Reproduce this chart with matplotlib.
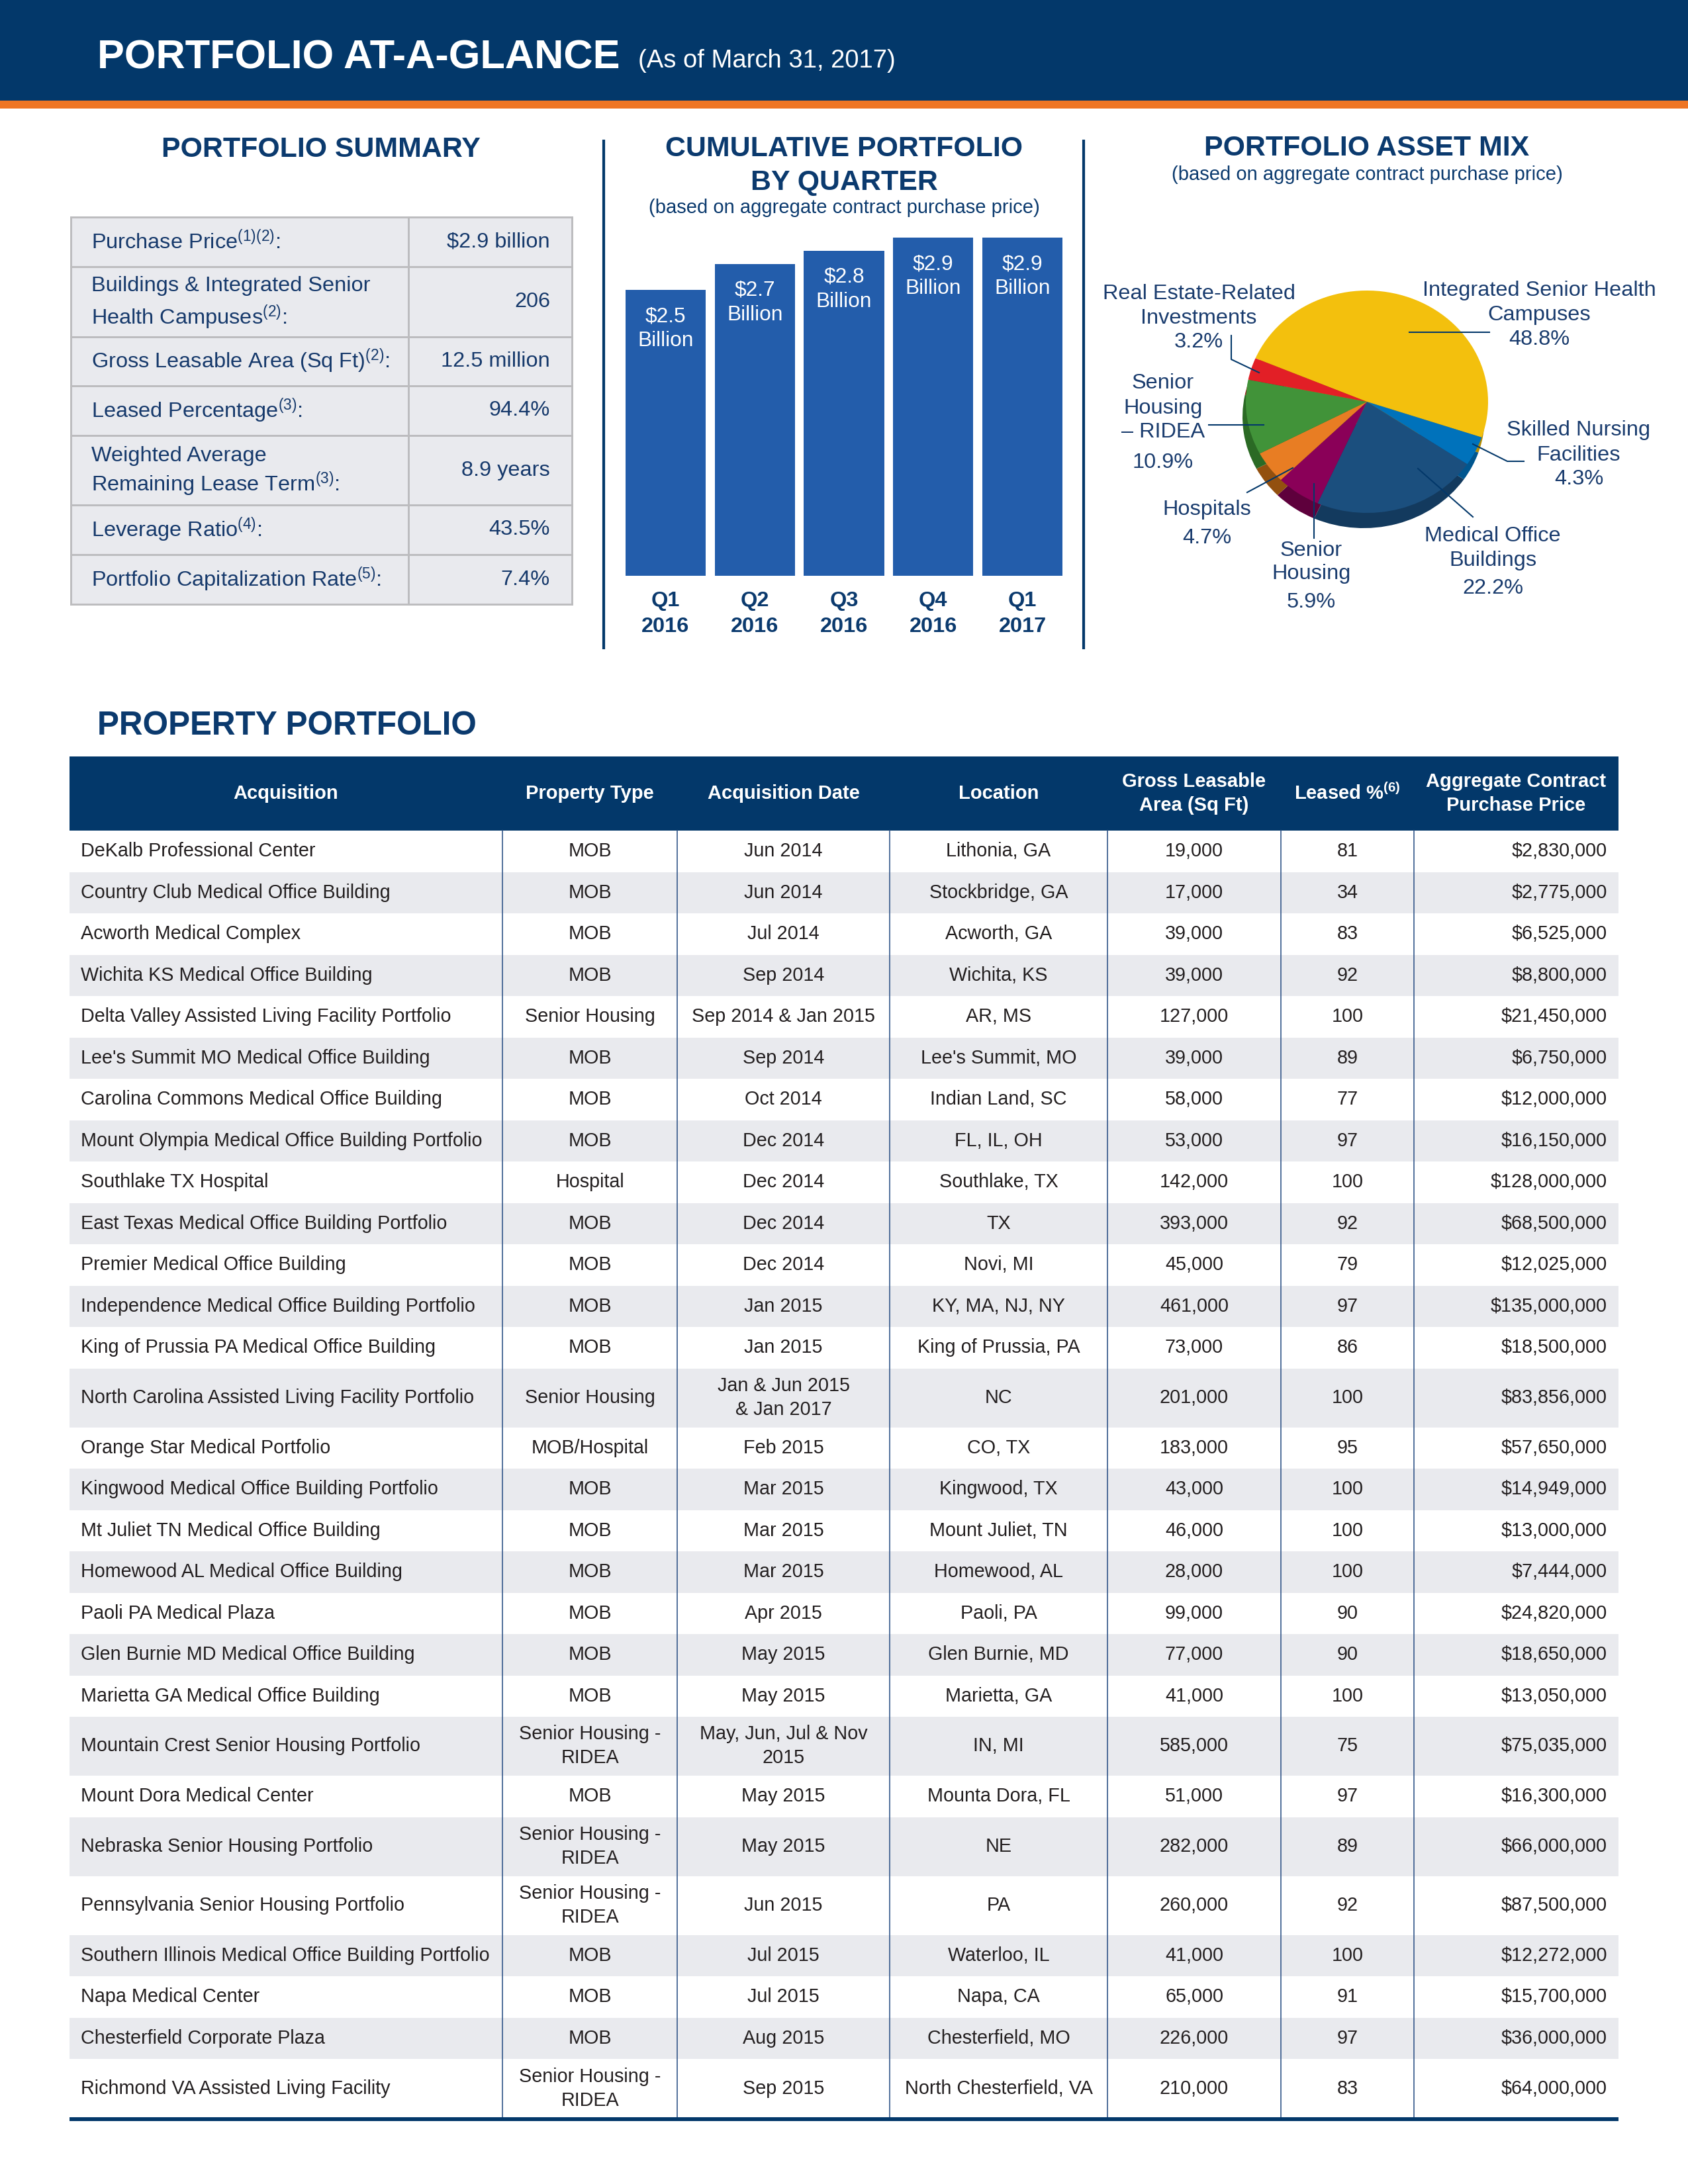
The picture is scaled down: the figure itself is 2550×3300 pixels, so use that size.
import matplotlib
matplotlib.use("Agg")
import matplotlib.pyplot as plt
from matplotlib.patches import Rectangle

plt.rcParams['font.family'] = ['Liberation Sans', 'DejaVu Sans']
plt.rcParams['mathtext.default'] = 'regular'

W, H, DPI = 2550, 3300, 300
PT = DPI / 72.0          # pixels per point

NAVY = '#03386a'
HEAD = '#0b3a6e'
TXT = '#16396b'
ORANGE = '#ee7524'
BAR = '#235dab'
GRAY = '#e9eaee'
BODY = '#231f20'

# ---------------- data ----------------
summary_labels = [
    ["Purchase Price$^{(1)(2)}$:"],
    ["Buildings & Integrated Senior", "Health Campuses$^{(2)}$:"],
    ["Gross Leasable Area (Sq Ft)$^{(2)}$:"],
    ["Leased Percentage$^{(3)}$:"],
    ["Weighted Average", "Remaining Lease Term$^{(3)}$:"],
    ["Leverage Ratio$^{(4)}$:"],
    ["Portfolio Capitalization Rate$^{(5)}$:"],
]
summary_values = ["$2.9 billion", "206", "12.5 million", "94.4%", "8.9 years", "43.5%", "7.4%"]

quarters = ["Q1", "Q2", "Q3", "Q4", "Q1"]
years = ["2016", "2016", "2016", "2016", "2017"]
cumulative = [2.5, 2.7, 2.8, 2.9, 2.9]

mix_names = ["Integrated Senior Health Campuses", "Skilled Nursing Facilities",
             "Medical Office Buildings", "Senior Housing", "Hospitals",
             "Senior Housing - RIDEA", "Real Estate-Related Investments"]
mix_pct = [48.8, 4.3, 22.2, 5.9, 4.7, 10.9, 3.2]
mix_colors = ['#f3c00d', '#0072bb', '#1b4f7e', '#8a0058', '#e87d23', '#419339', '#e21f26']
mix_dark = ['#b58c00', '#00568f', '#133a5e', '#5e003c', '#93500f', '#2b6a25', '#9c1117']

columns = ["Acquisition", "Property Type", "Acquisition Date", "Location",
           "Gross Leasable\nArea (Sq Ft)", "Leased %$^{(6)}$", "Aggregate Contract\nPurchase Price"]

acquisitions = [
    "DeKalb Professional Center", "Country Club Medical Office Building", "Acworth Medical Complex",
    "Wichita KS Medical Office Building", "Delta Valley Assisted Living Facility Portfolio",
    "Lee's Summit MO Medical Office Building", "Carolina Commons Medical Office Building",
    "Mount Olympia Medical Office Building Portfolio", "Southlake TX Hospital",
    "East Texas Medical Office Building Portfolio", "Premier Medical Office Building",
    "Independence Medical Office Building Portfolio", "King of Prussia PA Medical Office Building",
    "North Carolina Assisted Living Facility Portfolio", "Orange Star Medical Portfolio",
    "Kingwood Medical Office Building Portfolio", "Mt Juliet TN Medical Office Building",
    "Homewood AL Medical Office Building", "Paoli PA Medical Plaza",
    "Glen Burnie MD Medical Office Building", "Marietta GA Medical Office Building",
    "Mountain Crest Senior Housing Portfolio", "Mount Dora Medical Center",
    "Nebraska Senior Housing Portfolio", "Pennsylvania Senior Housing Portfolio",
    "Southern Illinois Medical Office Building Portfolio", "Napa Medical Center",
    "Chesterfield Corporate Plaza", "Richmond VA Assisted Living Facility",
]
prop_types = [
    "MOB", "MOB", "MOB", "MOB", "Senior Housing", "MOB", "MOB", "MOB", "Hospital", "MOB", "MOB",
    "MOB", "MOB", "Senior Housing", "MOB/Hospital", "MOB", "MOB", "MOB", "MOB", "MOB", "MOB",
    "Senior Housing -\nRIDEA", "MOB", "Senior Housing -\nRIDEA", "Senior Housing -\nRIDEA",
    "MOB", "MOB", "MOB", "Senior Housing -\nRIDEA",
]
acq_dates = [
    "Jun 2014", "Jun 2014", "Jul 2014", "Sep 2014", "Sep 2014 & Jan 2015", "Sep 2014", "Oct 2014",
    "Dec 2014", "Dec 2014", "Dec 2014", "Dec 2014", "Jan 2015", "Jan 2015",
    "Jan & Jun 2015\n& Jan 2017", "Feb 2015", "Mar 2015", "Mar 2015", "Mar 2015", "Apr 2015",
    "May 2015", "May 2015", "May, Jun, Jul & Nov\n2015", "May 2015", "May 2015", "Jun 2015",
    "Jul 2015", "Jul 2015", "Aug 2015", "Sep 2015",
]
locations = [
    "Lithonia, GA", "Stockbridge, GA", "Acworth, GA", "Wichita, KS", "AR, MS", "Lee's Summit, MO",
    "Indian Land, SC", "FL, IL, OH", "Southlake, TX", "TX", "Novi, MI", "KY, MA, NJ, NY",
    "King of Prussia, PA", "NC", "CO, TX", "Kingwood, TX", "Mount Juliet, TN", "Homewood, AL",
    "Paoli, PA", "Glen Burnie, MD", "Marietta, GA", "IN, MI", "Mounta Dora, FL", "NE", "PA",
    "Waterloo, IL", "Napa, CA", "Chesterfield, MO", "North Chesterfield, VA",
]
gla = [19000, 17000, 39000, 39000, 127000, 39000, 58000, 53000, 142000, 393000, 45000, 461000,
       73000, 201000, 183000, 43000, 46000, 28000, 99000, 77000, 41000, 585000, 51000, 282000,
       260000, 41000, 65000, 226000, 210000]
leased = [81, 34, 83, 92, 100, 89, 77, 97, 100, 92, 79, 97, 86, 100, 95, 100, 100, 100, 90, 90,
          100, 75, 97, 89, 92, 100, 91, 97, 83]
price = [2830000, 2775000, 6525000, 8800000, 21450000, 6750000, 12000000, 16150000, 128000000,
         68500000, 12025000, 135000000, 18500000, 83856000, 57650000, 14949000, 13000000, 7444000,
         24820000, 18650000, 13050000, 75035000, 16300000, 66000000, 87500000, 12272000, 15700000,
         36000000, 64000000]

# ---------------- figure ----------------
fig = plt.figure(figsize=(W / DPI, H / DPI), dpi=DPI)
bg = fig.add_axes([0, 0, 1, 1], zorder=0)
bg.set_xlim(0, W)
bg.set_ylim(H, 0)
bg.set_axis_off()
ov = fig.add_axes([0, 0, 1, 1], zorder=5)
ov.set_xlim(0, W)
ov.set_ylim(H, 0)
ov.set_axis_off()
ov.patch.set_alpha(0)


def put(x, y, s, size, color, ha='center', va='center', weight='normal', math=False):
    ov.text(x, y, s, fontsize=size, color=color, ha=ha, va=va, fontweight=weight,
            parse_math=math)


def rect(x0, y0, w, h, fc, ec='none', lw=0):
    bg.add_patch(Rectangle((x0, y0), w, h, facecolor=fc, edgecolor=ec, linewidth=lw))


# header band
rect(0, 0, W, 152, NAVY)
rect(0, 152, W, 12, ORANGE)
put(147, 103, "PORTFOLIO AT-A-GLANCE", 14.7, 'white', ha='left', va='baseline', weight='bold')
put(964, 102, "(As of March 31, 2017)", 9.2, 'white', ha='left', va='baseline')

# panel dividers
for xd in (912, 1637):
    ov.plot([xd, xd], [211, 981], color=NAVY, lw=1.0, solid_capstyle='butt')

# ---------------- portfolio summary ----------------
put(485, 237, "PORTFOLIO SUMMARY", 10.3, HEAD, va='baseline', weight='bold')
row_edges = [328, 403, 509, 583, 658, 763, 838, 913]
sx0, sx1, sdiv = 107, 864, 617
rect(sx0, row_edges[0], sx1 - sx0, row_edges[-1] - row_edges[0], GRAY)
for ye in row_edges:
    ov.plot([sx0, sx1], [ye, ye], color='#bcbcbe', lw=0.7)
for xe in (sx0, sdiv, sx1):
    ov.plot([xe, xe], [row_edges[0], row_edges[-1]], color='#bcbcbe', lw=0.7)
for i, (lab, val) in enumerate(zip(summary_labels, summary_values)):
    yc = (row_edges[i] + row_edges[i + 1]) / 2
    if len(lab) == 1:
        put(138, yc, lab[0], 7.8, TXT, ha='left', math=True)
    else:
        off = 24 if i == 1 else 21
        put(138, yc - off, lab[0], 7.8, TXT, ha='left', math=True)
        put(138, yc + off, lab[1], 7.8, TXT, ha='left', math=True)
    put(831, yc, val, 7.8, TXT, ha='right')

# ---------------- cumulative portfolio bar chart ----------------
put(1275, 236, "CUMULATIVE PORTFOLIO", 10.3, HEAD, va='baseline', weight='bold')
put(1275, 287, "BY QUARTER", 10.3, HEAD, va='baseline', weight='bold')
put(1275, 322, "(based on aggregate contract purchase price)", 7.0, HEAD, va='baseline')

bx0, bx1, by_top, by_bot = 938, 1612, 359, 870
ba = fig.add_axes([bx0 / W, 1 - by_bot / H, (bx1 - bx0) / W, (by_bot - by_top) / H], zorder=2)
ba.bar(range(len(cumulative)), cumulative, width=0.9, color=BAR)
ba.set_xlim(-0.5, len(cumulative) - 0.5)
ba.set_ylim(0.313, 2.9)
ba.set_axis_off()
for i, v in enumerate(cumulative):
    ba.annotate(f"${v:.1f}", (i, v), xytext=(0, -40 / PT), textcoords='offset points',
                ha='center', va='center', color='white', fontsize=7.6, parse_math=False)
    ba.annotate("Billion", (i, v), xytext=(0, -77 / PT), textcoords='offset points',
                ha='center', va='center', color='white', fontsize=7.6)
for i, (q, yr) in enumerate(zip(quarters, years)):
    ba.annotate(q, (i, 0), xycoords=('data', 'axes fraction'), xytext=(0, -38 / PT),
                textcoords='offset points', ha='center', va='center', color=HEAD,
                fontsize=7.8, fontweight='bold', annotation_clip=False)
    ba.annotate(yr, (i, 0), xycoords=('data', 'axes fraction'), xytext=(0, -77 / PT),
                textcoords='offset points', ha='center', va='center', color=HEAD,
                fontsize=7.8, fontweight='bold', annotation_clip=False)

# ---------------- asset mix pie ----------------
put(2065, 235, "PORTFOLIO ASSET MIX", 10.3, HEAD, va='baseline', weight='bold')
put(2065, 272, "(based on aggregate contract purchase price)", 7.0, HEAD, va='baseline')

cx, cy = 2065, 607
YS = 168 / 183
px0, px1, py0, py1 = 1700, 2430, 400, 830
pa = fig.add_axes([px0 / W, 1 - py1 / H, (px1 - px0) / W, (py1 - py0) / H], zorder=2)
pa.pie(mix_pct, colors=mix_dark, startangle=157, counterclock=False, radius=183,
       center=(-5, -23 / YS), wedgeprops=dict(linewidth=0))
pa.pie(mix_pct, colors=mix_colors, startangle=157, counterclock=False, radius=183,
       center=(0, 0), wedgeprops=dict(linewidth=0))
pa.set_aspect('auto')
pa.set_xlim(px0 - cx, px1 - cx)
pa.set_ylim(-(py1 - cy) / YS, (cy - py0) / YS)
pa.set_axis_off()

PIE_TXT = '#1a3c6e'
pie_labels = [
    (2325, [439, 476, 513], ["Integrated Senior Health", "Campuses", "48.8%"]),
    (2385, [650, 688, 724], ["Skilled Nursing", "Facilities", "4.3%"]),
    (2255, [810, 847, 889], ["Medical Office", "Buildings", "22.2%"]),
    (1981, [832, 867, 910], ["Senior", "Housing", "5.9%"]),
    (1823, [770, 813], ["Hospitals", "4.7%"]),
    (1757, [579, 617, 653, 699], ["Senior", "Housing", "– RIDEA", "10.9%"]),
    (1811, [444, 481, 517], ["Real Estate-Related", "Investments", "3.2%"]),
]
for x, ys, lines in pie_labels:
    for yy, s in zip(ys, lines):
        put(x, yy, s, 7.8, PIE_TXT)

leaders = [
    ([2129, 2250], [502, 502]),
    ([2225, 2277, 2302], [671, 697, 697]),
    ([2142, 2225], [708, 781]),
    ([1985, 1985], [731, 813]),
    ([1953, 1884], [707, 744]),
    ([1909, 1826], [642, 642]),
    ([1902, 1860, 1860], [563, 543, 507]),
]
for xs, ys in leaders:
    ov.plot(xs, ys, color=NAVY, lw=0.5)

# ---------------- property portfolio table ----------------
put(147, 1110, "PROPERTY PORTFOLIO", 11.9, HEAD, ha='left', va='baseline', weight='bold')

col_x = [105, 759, 1023, 1344, 1673, 1935, 2136, 2445]
th0, th1 = 1143, 1255
rect(col_x[0], th0, col_x[-1] - col_x[0], th1 - th0, NAVY)
for j, c in enumerate(columns):
    xc = (col_x[j] + col_x[j + 1]) / 2
    yc = (th0 + th1) / 2
    parts = c.split("\n")
    if len(parts) == 1:
        put(xc, yc, c, 7.0, 'white', weight='bold', math=True)
    else:
        put(xc, yc - 18, parts[0], 7.0, 'white', weight='bold')
        put(xc, yc + 18, parts[1], 7.0, 'white', weight='bold')

y = th1
for i in range(len(acquisitions)):
    cells = [acquisitions[i], prop_types[i], acq_dates[i], locations[i],
             f"{gla[i]:,}", str(leased[i]), f"${price[i]:,}"]
    h = 89 if any("\n" in c for c in cells) else 62.5
    if i % 2:
        rect(col_x[0], y, col_x[-1] - col_x[0], h, GRAY)
    yc = y + h / 2
    for j, c in enumerate(cells):
        if j == 0:
            x, ha = col_x[0] + 17, 'left'
        elif j == len(cells) - 1:
            x, ha = col_x[-1] - 17, 'right'
        else:
            x, ha = (col_x[j] + col_x[j + 1]) / 2, 'center'
        parts = c.split("\n")
        if len(parts) == 1:
            put(x, yc, c, 6.9, BODY, ha=ha)
        else:
            put(x, yc - 18, parts[0], 6.9, BODY, ha=ha)
            put(x, yc + 18, parts[1], 6.9, BODY, ha=ha)
    y += h
table_bottom = y
for xe in col_x[1:-1]:
    ov.plot([xe, xe], [th1, table_bottom], color='#34578a', lw=0.4)
ov.plot([col_x[0], col_x[-1]], [table_bottom + 2, table_bottom + 2], color=NAVY, lw=1.4,
        solid_capstyle='butt')

fig.savefig("out.png", dpi=DPI)
